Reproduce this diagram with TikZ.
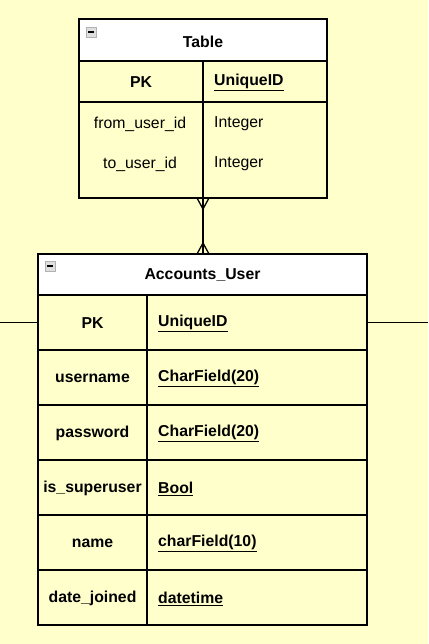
\documentclass[tikz,border=0pt]{standalone}
\usepackage{fontspec}
\setmainfont{Liberation Sans}
\definecolor{bgy}{HTML}{FFFFCC}
\definecolor{celly}{HTML}{FFFFCC}
\newcommand{\ul}[1]{\underline{#1}}
\begin{document}
\begin{tikzpicture}[x=1pt,y=-1pt,
  cell/.style={draw=black,line width=1.3pt,fill=celly,inner sep=0pt,outer sep=0pt},
  headcell/.style={draw=black,line width=1.3pt,fill=white,inner sep=0pt,outer sep=0pt},
  txt/.style={inner sep=0pt,font=\fontsize{15.8}{18}\selectfont},
  btxt/.style={inner sep=0pt,font=\fontsize{15.8}{18}\selectfont\bfseries},
  lt/.style={anchor=west},
  conn/.style={line width=1.3pt}]
\fill[bgy] (0,0) rectangle (428,644);
\useasboundingbox (0,0) rectangle (428,644);

% ---------- Table ----------
\draw[headcell] (79,19) rectangle (327,61);
\node[btxt] (thead) at (203,41.5) {Table};
\draw[cell] (79,61) rectangle (203,102);
\draw[cell] (203,61) rectangle (327,102);
\draw[cell] (79,102) rectangle (203,198);
\draw[cell] (203,102) rectangle (327,198);
\node[btxt] (tpk) at (141,82.5) {PK};
\node[btxt,lt] (tpkv) at (214,82.5) {\ul{UniqueID}};
\node[txt] (tf1) at (140,124) {from\_user\_id};
\node[txt,lt] (tf1v) at (214,124) {Integer};
\node[txt] (tf2) at (140,164) {to\_user\_id};
\node[txt,lt] (tf2v) at (214,164) {Integer};
% minus icon
\draw[fill=gray!25,draw=gray!60,line width=0.6pt] (86,27) rectangle (96,37);
\draw[line width=1.5pt] (88,32) -- (94,32);

% ---------- Accounts_User ----------
\draw[headcell] (38,254) rectangle (367,295);
\node[btxt] (ahead) at (202.5,275) {Accounts\_User};
\draw[fill=gray!25,draw=gray!60,line width=0.6pt] (45,261) rectangle (55,271);
\draw[line width=1.5pt] (47,266) -- (53,266);
\foreach \i/\k/\v in {0/PK/UniqueID,1/username/CharField(20),2/password/CharField(20),3/is\_superuser/Bool,4/name/charField(10),5/date\_joined/datetime}{
  \pgfmathsetmacro{\ytop}{295+55*\i}
  \pgfmathsetmacro{\ybot}{350+55*\i}
  \pgfmathsetmacro{\ymid}{323.5+55*\i}
  \draw[cell] (38,\ytop) rectangle (147,\ybot);
  \draw[cell] (147,\ytop) rectangle (367,\ybot);
  \node[btxt] (ak\i) at (92.5,\ymid) {\k};
  \node[btxt,lt] (av\i) at (158,\ymid) {\ul{\v}};
}

% ---------- connectors ----------
\coordinate (ctop) at (203,198);
\coordinate (cbot) at (203,254);
\draw[conn] (ctop) -- (cbot);
\draw[conn] (197,198) -- (203,209) -- (209,198);
\draw[conn] (197,254) -- (203,243) -- (209,254);
\coordinate (lend) at (0,322);
\coordinate (lstart) at (38,322);
\coordinate (rstart) at (367,322);
\coordinate (rend) at (428,322);
\draw[line width=1pt] (lend) -- (lstart);
\draw[line width=1pt] (rstart) -- (rend);
\end{tikzpicture}
\end{document}
